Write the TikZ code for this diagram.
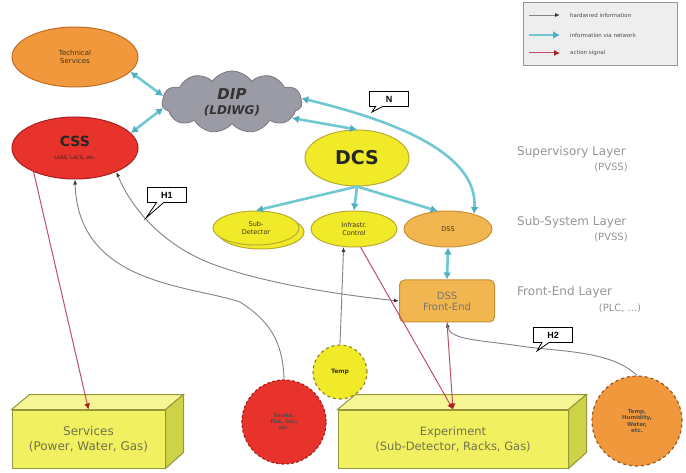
\documentclass[tikz,border=0pt]{standalone}
\usepackage{fontspec}
\setmainfont{DejaVu Sans}
\newfontfamily\arialf{Liberation Sans}
\usetikzlibrary{shapes.geometric,shapes.symbols,shapes.callouts,arrows.meta,calc}
\definecolor{netc}{RGB}{112,200,210}
\definecolor{netd}{RGB}{80,175,190}
\definecolor{hwc}{RGB}{130,130,135}
\definecolor{actc}{RGB}{190,80,100}
\definecolor{actd}{RGB}{170,30,30}
\definecolor{orf}{RGB}{242,152,60}
\definecolor{orb}{RGB}{190,110,40}
\definecolor{redf}{RGB}{232,50,44}
\definecolor{redb}{RGB}{170,30,30}
\definecolor{yelf}{RGB}{240,234,40}
\definecolor{yelb}{RGB}{185,170,50}
\definecolor{dssf}{RGB}{242,182,80}
\definecolor{dssb}{RGB}{200,145,50}
\definecolor{dipf}{RGB}{155,155,165}
\definecolor{dipb}{RGB}{120,120,130}
\definecolor{boxf}{RGB}{240,240,96}
\definecolor{boxt}{RGB}{246,246,150}
\definecolor{boxs}{RGB}{205,210,70}
\definecolor{boxb}{RGB}{150,150,60}
\definecolor{boxtxt}{RGB}{115,115,80}
\definecolor{laytxt}{RGB}{150,150,150}
\definecolor{legf}{RGB}{238,238,238}
\definecolor{legb}{RGB}{150,150,150}
\definecolor{darktxt}{RGB}{60,50,30}
\begin{document}
\begin{tikzpicture}[x=1pt,y=-1pt,
  ell/.style={ellipse,align=center,inner sep=0pt,line width=1pt},
  net/.style={draw=netc,line width=2.6pt,{Latex[length=7pt,width=8pt,color=netd]}-{Latex[length=7pt,width=8pt,color=netd]}},
  net1/.style={draw=netc,line width=2.6pt,-{Latex[length=7pt,width=8pt,color=netd]}},
  hw/.style={draw=hwc,line width=0.9pt,-{Latex[length=5pt,width=4pt,color=black!80]}},
  hw2/.style={draw=hwc,line width=0.9pt,{Latex[length=5pt,width=4pt,color=black!80]}-{Latex[length=5pt,width=4pt,color=black!80]}},
  act/.style={draw=actc,line width=1pt,-{Latex[length=6pt,width=6pt,color=actd]}},
  layer/.style={anchor=west,text=laytxt,font=\fontsize{12}{13}\selectfont,inner sep=0pt},
  layersub/.style={text=laytxt,font=\fontsize{10}{11}\selectfont,inner sep=0pt},
  call/.style={rectangle callout,draw=black,fill=white,line width=0.8pt,minimum width=39pt,minimum height=15pt,inner sep=0pt,font=\arialf\bfseries\fontsize{9}{9}\selectfont},
  frontface/.style={draw=boxb,fill=boxf,line width=1pt,minimum height=58pt,inner sep=0pt,align=center,text=boxtxt},
  legtxt/.style={anchor=west,inner sep=0pt,font=\fontsize{5.5}{6}\selectfont,text=black!70}
]
\useasboundingbox (0,0) rectangle (686,473);
\fill[white] (0,0) rectangle (686,473);

% legend
\node[draw=legb,fill=legf,line width=0.8pt,minimum width=154pt,minimum height=63pt,inner sep=0pt] (leg) at (600,34) {};
\coordinate (l1a) at (529,15); \coordinate (l1b) at (560,15);
\coordinate (l2a) at (529,35); \coordinate (l2b) at (560,35);
\coordinate (l3a) at (529,53); \coordinate (l3b) at (560,53);
\draw[hw] (l1a) -- (l1b);
\draw[net1,line width=2pt] (l2a) -- (l2b);
\draw[act] (l3a) -- (l3b);
\node[legtxt] (lt1) at (570,15) {hardwired information};
\node[legtxt] (lt2) at (570,35) {information via network};
\node[legtxt] (lt3) at (570,53) {action signal};

% top nodes
\node[ell,fill=orf,draw=orb,minimum width=126pt,minimum height=60pt,text=darktxt,font=\fontsize{7}{8}\selectfont] (ts) at (75,57) {Technical\\Services};
\node[ell,fill=redf,draw=redb,minimum width=126pt,minimum height=62pt,text=black!85] (css) at (75,148) {{\fontsize{14}{15}\selectfont\bfseries CSS}\\[1pt]{\fontsize{5}{6}\selectfont LASS, LACS, etc.}};
\node[cloud,cloud puffs=11,cloud puff arc=110,aspect=2.2,fill=dipf,draw=dipb,line width=0.8pt,minimum width=140pt,minimum height=62pt,inner sep=0pt,align=center,text=black!80,font=\bfseries\itshape] (dip) at (232,102) {{\fontsize{15}{16}\selectfont DIP}\\[3pt]{\fontsize{12}{13}\selectfont (LDIWG)}};
\node[ell,fill=yelf,draw=yelb,minimum width=104pt,minimum height=56pt,font=\fontsize{19}{20}\selectfont\bfseries,text=black!85] (dcs) at (357,158) {DCS};

% sub-system layer
\node[ell,fill=yelf,draw=yelb,minimum width=86pt,minimum height=34pt] (subb) at (261,232) {};
\node[ell,fill=yelf,draw=yelb,minimum width=86pt,minimum height=34pt,font=\fontsize{6.5}{7.5}\selectfont,text=darktxt] (sub) at (256,228) {Sub-\\Detector};
\node[ell,fill=yelf,draw=yelb,minimum width=86pt,minimum height=36pt,font=\fontsize{6.5}{7.5}\selectfont,text=darktxt] (inf) at (354,229) {Infrastr.\\Control};
\node[ell,fill=dssf,draw=dssb,minimum width=88pt,minimum height=36pt,font=\fontsize{6.5}{7.5}\selectfont,text=darktxt] (dss) at (448,229) {DSS};
\node[rectangle,rounded corners=5pt,fill=dssf,draw=dssb,line width=1pt,minimum width=95pt,minimum height=42pt,inner sep=0pt,align=center,font=\fontsize{10}{11}\selectfont,text=black!55] (fe) at (447,301) {DSS\\Front-End};

% layer labels
\node[layer] (l1) at (517,152) {Supervisory Layer};
\node[layersub] (l1s) at (611,167) {(PVSS)};
\node[layer] (l2) at (517,222) {Sub-System Layer};
\node[layersub] (l2s) at (611,237) {(PVSS)};
\node[layer] (l3) at (517,292) {Front-End Layer};
\node[layersub] (l3s) at (620,308) {(PLC, ...)};

% bottom boxes
\node[frontface,minimum width=153pt,font=\fontsize{12}{15}\selectfont] (serv) at (88.5,439) {Services\\(Power, Water, Gas)};
\filldraw[draw=boxb,fill=boxt,line width=1pt] (serv.north west) -- ++(18,-15) -- ($(serv.north east)+(18,-15)$) -- (serv.north east) -- cycle;
\filldraw[draw=boxb,fill=boxs,line width=1pt] (serv.north east) -- ++(18,-15) -- ++(0,58) -- (serv.south east) -- cycle;
\node[frontface,minimum width=230pt,font=\fontsize{11.5}{15}\selectfont] (exp) at (453,439) {Experiment\\(Sub-Detector, Racks, Gas)};
\filldraw[draw=boxb,fill=boxt,line width=1pt] (exp.north west) -- ++(18,-15) -- ($(exp.north east)+(18,-15)$) -- (exp.north east) -- cycle;
\filldraw[draw=boxb,fill=boxs,line width=1pt] (exp.north east) -- ++(18,-15) -- ++(0,58) -- (exp.south east) -- cycle;

% sensor circles
\node[circle,fill=yelf,draw=yelb!80!black,dashed,line width=1.2pt,minimum size=54pt,inner sep=0pt,font=\fontsize{6}{7}\selectfont\bfseries,text=darktxt] (temp) at (340,372) {Temp};
\node[circle,fill=redf,draw=redb,densely dashed,line width=1.2pt,minimum size=84pt,inner sep=0pt,align=center,font=\fontsize{5}{6}\selectfont\bfseries,text=black!70] (redc) at (284,422) {Smoke,\\Fire, Gas,\\etc.};
\node[circle,fill=orf,draw=orb!80!black,dashed,line width=1.2pt,minimum size=90pt,inner sep=0pt,align=center,font=\fontsize{5.5}{6.5}\selectfont\bfseries,text=black!70] (orc) at (637,421) {Temp,\\Humidity,\\Water,\\etc.};

% network connectors
\draw[net] (ts.-15) -- (dip.175);
\draw[net] (css.15) -- (dip.185);
\draw[net] (dip.-15) -- (dcs.north);
\draw[net] (dip.3) .. controls (400,122) and (478,155) .. (dss.30);
\draw[net1] (dcs.south) -- (sub.north);
\draw[net1] (dcs.south) -- (inf.north);
\draw[net1] (dcs.south) -- (dss.120);
\draw[net] (dss.south) -- (fe.north);

% hardwired connectors
\draw[hw] (redc.north) .. controls (283,340) and (268,320) .. (240,302) .. controls (190,285) and (78,285) .. (css.south);
\draw[hw2] (css.-30) .. controls (130,205) and (160,245) .. (215,265) .. controls (270,285) and (350,296) .. (fe.west);
\draw[hw] (temp.north) -- (inf.240);
\draw[hw] (orc.north) .. controls (610,350) and (560,352) .. (520,346) .. controls (480,340) and (450,340) .. (fe.south);

% action connectors
\draw[act] (css.-150) -- (serv.north);
\draw[act] (inf.-70) -- (exp.north);
\draw[act] (fe.south) -- (exp.north);

% callouts
\node[call,callout absolute pointer={(372,112)}] (cn) at (389,99) {N};
\node[call,callout absolute pointer={(146,218)}] (ch1) at (167,195) {H1};
\node[call,callout absolute pointer={(537,351)}] (ch2) at (553,335) {H2};
\end{tikzpicture}
\end{document}
